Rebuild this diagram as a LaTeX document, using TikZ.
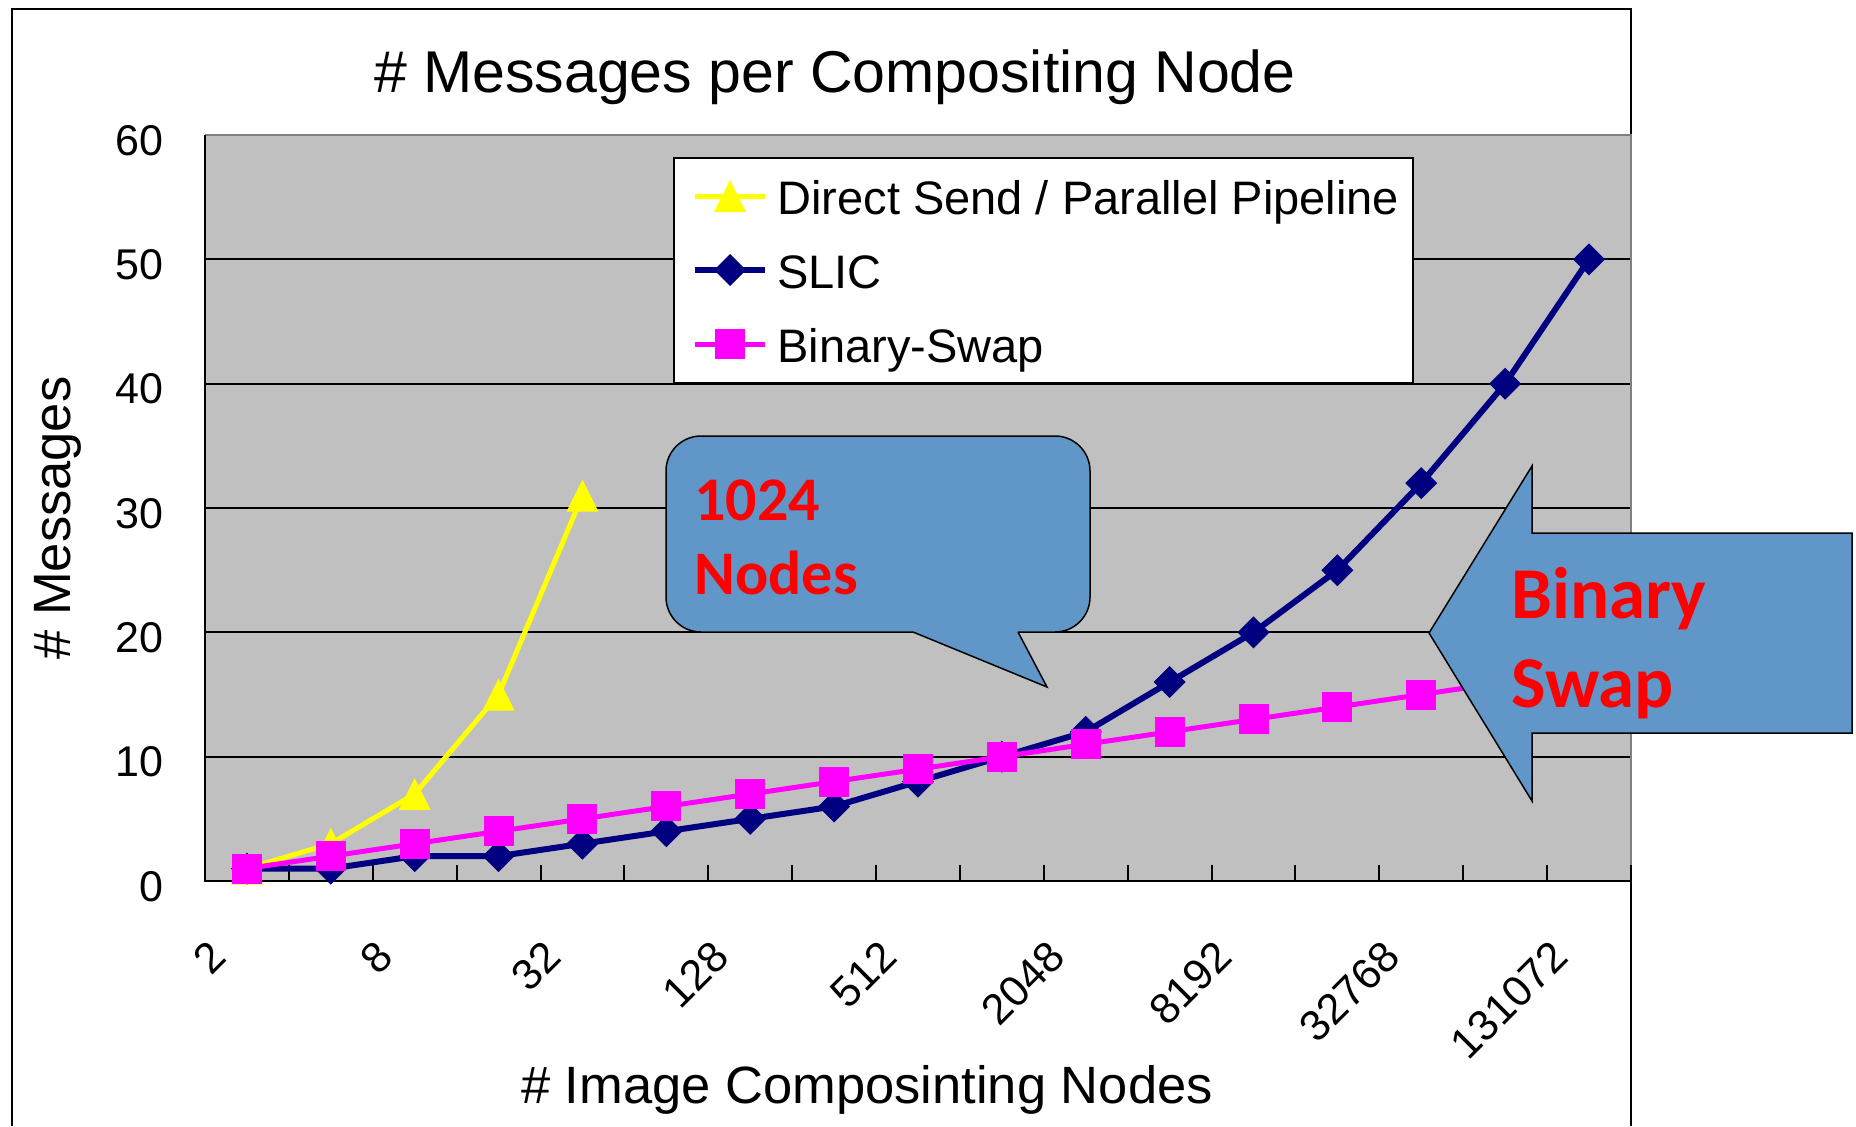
\documentclass[tikz,border=0pt]{standalone}
\usepackage{fontspec}
\setmainfont{Liberation Sans}
\newfontfamily\calib{Carlito}
\definecolor{plotgray}{RGB}{192,192,192}
\definecolor{slicnavy}{RGB}{0,0,128}
\definecolor{bsmag}{RGB}{255,0,255}
\definecolor{dsyel}{RGB}{255,255,0}
\definecolor{callblue}{RGB}{97,150,201}
\definecolor{callred}{RGB}{255,0,0}
\begin{document}
\begin{tikzpicture}[x=0.5pt,y=-0.5pt,
  ticklab/.style={font=\fontsize{21.5}{26}\selectfont,inner sep=0pt},
  legtext/.style={font=\fontsize{23.5}{28}\selectfont,inner sep=0pt,anchor=base west},
  axtitle/.style={font=\fontsize{26.25}{32}\selectfont,inner sep=0pt,anchor=base},
  gridln/.style={line width=1pt,black},
  slicline/.style={line width=3pt,slicnavy,line join=round},
  bsline/.style={line width=2.5pt,bsmag,line join=round},
  dsline/.style={line width=2.5pt,dsyel,line join=round},
  calltext/.style={font=\calib\bfseries\fontsize{31}{37}\selectfont,text=callred,inner sep=0pt,anchor=base west},
  arrtext/.style={font=\calib\bfseries\fontsize{36.5}{44}\selectfont,text=callred,inner sep=0pt,anchor=base west},
  shapeborder/.style={draw=black,line width=0.75pt,fill=callblue},
  tmark/.pic={\fill[dsyel] (-8pt,-8pt) -- (8pt,-8pt) -- (0pt,8pt) -- cycle;},
  dmark/.pic={\fill[slicnavy] (0pt,8pt) -- (8pt,0pt) -- (0pt,-8pt) -- (-8pt,0pt) -- cycle;},
  smark/.pic={\fill[bsmag] (-7.5pt,-7.5pt) rectangle (7.5pt,7.5pt);}
]
\useasboundingbox (0,0) rectangle (1856,1126);
\fill[white] (0,0) rectangle (1856,1126);

% outer chart frame
\draw[line width=1pt] (12,1126) -- (12,9) -- (1631,9) -- (1631,1126);

% plot area
\fill[plotgray] (205,135) rectangle (1631,881);
\foreach \v in {10,20,30,40,50}
  \draw[gridln] (205,{881-\v*12.433}) -- (1631,{881-\v*12.433});
\draw[line width=1pt,gray] (205,135) -- (1631,135) -- (1631,881);
\draw[line width=1.2pt] (205,135) -- (205,881) -- (1631,881);
\foreach \k in {1,...,17}
  \draw[line width=1pt] ({205+\k*83.88},881) -- ({205+\k*83.88},865);

% y tick labels
\foreach \v in {0,10,20,30,40,50,60}
  \node[ticklab,anchor=base east] (yl\v) at (164,{881-\v*12.433+20}) {\v};

% x tick labels
\foreach \i/\lab in {0/2,2/8,4/32,6/128,8/512,10/2048,12/8192,14/32768,16/131072}
  \node[ticklab,rotate=45,anchor=east] (xl\i) at ({205+(\i+0.5)*83.88-29},949) {\lab};

% titles
\node[font=\fontsize{29.5}{35}\selectfont,inner sep=0pt,anchor=base] (title) at (835,92) {\# Messages per Compositing Node};
\node[axtitle] (xtitle) at (867,1103) {\# Image Composinting Nodes};
\node[axtitle,rotate=90] (ytitle) at (70,518) {\# Messages};

% legend
\node[draw=black,line width=1pt,fill=white,minimum width=369.5pt,minimum height=112.5pt,inner sep=0pt,anchor=north west] (legend) at (673,157) {};
\coordinate (lg1a) at (695,196); \coordinate (lg1b) at (765,196);
\coordinate (lg2a) at (695,270); \coordinate (lg2b) at (765,270);
\coordinate (lg3a) at (695,344); \coordinate (lg3b) at (765,344);
\draw[dsline] (lg1a) -- (lg1b);
\pic at (730,196) {tmark};
\draw[slicline] (lg2a) -- (lg2b);
\pic at (730,270) {dmark};
\draw[bsline] (lg3a) -- (lg3b);
\pic at (730,344) {smark};
\node[legtext] (lt1) at (777,214) {Direct Send / Parallel Pipeline};
\node[legtext] (lt2) at (777,288) {SLIC};
\node[legtext] (lt3) at (777,362) {Binary-Swap};

% data points
\foreach \v [count=\i from 0] in {1,3,7,15,31}
  \coordinate (d\i) at ({205+(\i+0.5)*83.88},{881-\v*12.433});
\foreach \v [count=\i from 0] in {1,1,2,2,3,4,5,6,8,10,12,16,20,25,32,40,50}
  \coordinate (s\i) at ({205+(\i+0.5)*83.88},{881-\v*12.433});
\foreach \v [count=\i from 0] in {1,2,3,4,5,6,7,8,9,10,11,12,13,14,15,16,17}
  \coordinate (b\i) at ({205+(\i+0.5)*83.88},{881-\v*12.433});

% Direct Send
\draw[dsline] (d0) \foreach \i in {1,...,4}{ -- (d\i)};
\foreach \i in {0,...,4} \pic at (d\i) {tmark};
% SLIC
\draw[slicline] (s0) \foreach \i in {1,...,16}{ -- (s\i)};
\foreach \i in {0,...,16} \pic at (s\i) {dmark};
% Binary-Swap
\draw[bsline] (b0) \foreach \i in {1,...,16}{ -- (b\i)};
\foreach \i in {0,...,16} \pic at (b\i) {smark};

% callout "1024 Nodes"
\draw[shapeborder,rounded corners=17.5pt] (666,436) rectangle (1090,632);
\fill[callblue] (913,632) -- (1047,687) -- (1018,632) -- (1018,629) -- (913,629) -- cycle;
\draw[line width=0.75pt,line join=miter] (913,632) -- (1047,687) -- (1018,632);
\node[calltext] (c1) at (694,520) {1024};
\node[calltext] (c2) at (694,594) {Nodes};

% block arrow "Binary Swap"
\draw[shapeborder] (1852,533) -- (1532,533) -- (1532,466) -- (1429,633) -- (1532,801) -- (1532,733) -- (1852,733) -- cycle;
\node[arrtext] (a1) at (1511,618) {Binary};
\node[arrtext] (a2) at (1511,707) {Swap};
\end{tikzpicture}
\end{document}
